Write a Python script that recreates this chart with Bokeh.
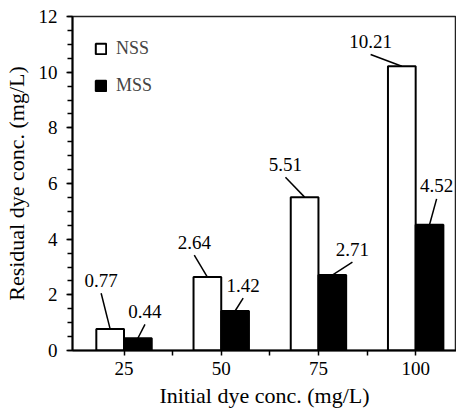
from bokeh.plotting import figure
from bokeh.models import Range1d, FixedTicker, Legend, LegendItem, ColumnDataSource
from bokeh.core.properties import value
from bokeh.embed import file_html
from bokeh.resources import INLINE

# ---- data ----
concentrations = ["25", "50", "75", "100"]
nss = [0.77, 2.64, 5.51, 10.21]
mss = [0.44, 1.42, 2.71, 4.52]
y_ticks = [0, 2, 4, 6, 8, 10, 12]

# ---- label offsets (styling, data units from bar top) ----
nss_label_dx = [-0.093, -0.135, -0.197, -0.321]
nss_label_dy = [1.755, 1.254, 1.182, 0.895]
mss_label_dx = [0.073, 0.083, 0.207, 0.073]
mss_label_dy = [0.967, 0.931, 0.931, 1.397]

FONT = "Liberation Serif"
bar_w = 0.285
idx = list(range(len(concentrations)))
x_nss = [i - bar_w / 2 for i in idx]
x_mss = [i + bar_w / 2 for i in idx]

p = figure(width=456, height=410, output_backend="svg", toolbar_location=None,
           x_range=Range1d(-0.53, 3.42), y_range=Range1d(0, 12),
           min_border_left=70, min_border_right=0, min_border_top=16,
           min_border_bottom=0)
p.background_fill_color = "white"
p.border_fill_color = "white"
p.outline_line_color = "#222222"
p.outline_line_width = 1.5
p.xgrid.visible = False
p.ygrid.visible = False

src_n = ColumnDataSource(dict(x=x_nss, top=nss))
src_m = ColumnDataSource(dict(x=x_mss, top=mss))
r_n = p.vbar(x="x", top="top", bottom=0, width=bar_w, source=src_n,
             fill_color="white", line_color="black", line_width=2)
r_m = p.vbar(x="x", top="top", bottom=0, width=bar_w, source=src_m,
             fill_color="black", line_color="black", line_width=2)

# value labels with leader lines
bar_x = x_nss + x_mss
bar_v = nss + mss
lab_x = [x + dx for x, dx in zip(x_nss, nss_label_dx)] + \
        [x + dx for x, dx in zip(x_mss, mss_label_dx)]
lab_y = [v + dy for v, dy in zip(nss, nss_label_dy)] + \
        [v + dy for v, dy in zip(mss, mss_label_dy)]
texts = [f"{v:.2f}" for v in bar_v]
p.segment(x0=lab_x, y0=[y - 0.47 for y in lab_y], x1=bar_x, y1=bar_v,
          line_color="black", line_width=1.5)
p.text(x=lab_x, y=lab_y, text=texts, text_align="center",
       text_baseline="middle", text_font=value(FONT),
       text_font_size="19px", text_color="black")

# axes
p.xaxis.ticker = FixedTicker(ticks=idx, minor_ticks=[0.5, 1.5, 2.5])
p.xaxis.major_label_overrides = {i: c for i, c in zip(idx, concentrations)}
p.yaxis.ticker = FixedTicker(ticks=y_ticks, minor_ticks=[0.5 * k for k in range(25)])
for ax in (p.xaxis[0], p.yaxis[0]):
    ax.axis_line_width = 2
    ax.axis_line_color = "black"
    ax.major_tick_line_width = 1.5
    ax.minor_tick_line_width = 1.5
    ax.major_tick_line_color = "black"
    ax.minor_tick_line_color = "black"
    ax.major_tick_in = 0
    ax.minor_tick_in = 0
    ax.major_label_text_font = FONT
    ax.major_label_text_font_size = "19px"
    ax.major_label_text_color = "black"
    ax.axis_label_text_font = FONT
    ax.axis_label_text_font_size = "22px"
    ax.axis_label_text_font_style = "normal"
    ax.axis_label_text_color = "black"
p.xaxis.major_tick_out = 5
p.xaxis.minor_tick_out = 5
p.xaxis.major_label_standoff = 6
p.xaxis.axis_label_standoff = 5
p.yaxis.major_tick_out = 6
p.yaxis.minor_tick_out = 5
p.yaxis.major_label_standoff = 9
p.yaxis.axis_label_standoff = 7
p.xaxis.axis_label = "Initial dye conc. (mg/L)"
p.yaxis.axis_label = "Residual dye conc. (mg/L)"

legend = Legend(items=[LegendItem(label="NSS", renderers=[r_n]),
                       LegendItem(label="MSS", renderers=[r_m])],
                location=(22, 254), margin=0, padding=0,
                glyph_width=13, glyph_height=13, label_height=13,
                spacing=16, label_standoff=9,
                label_text_font=FONT, label_text_font_size="18px",
                border_line_color=None, background_fill_alpha=0)
p.add_layout(legend)

open("out.html", "w").write(file_html(p, INLINE))
